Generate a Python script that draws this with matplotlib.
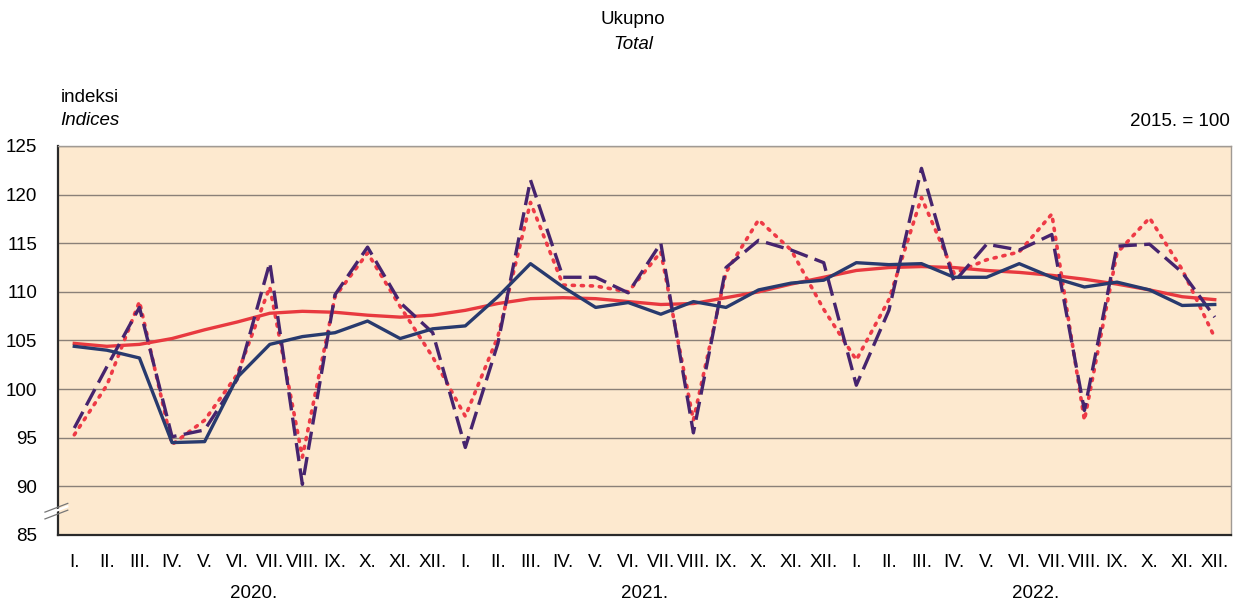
import matplotlib.pyplot as plt
import matplotlib.lines as mlines

plt.rcParams['font.family'] = ['Liberation Sans', 'DejaVu Sans']

meseci = ["I.", "II.", "III.", "IV.", "V.", "VI.", "VII.", "VIII.", "IX.", "X.", "XI.", "XII."] * 3
godine = ["2020.", "2021.", "2022."]

# originalni indeksi (isprekidana)
original = [96.0, 102.3, 108.4, 95.1, 95.8, 101.0, 113.0, 90.2, 109.7, 114.6, 108.9, 105.8,
            94.0, 104.7, 121.5, 111.5, 111.5, 109.9, 115.0, 95.5, 112.5, 115.3, 114.3, 113.0,
            100.4, 108.1, 122.7, 111.0, 114.9, 114.3, 115.9, 97.8, 114.7, 114.9, 112.0, 107.4]
# kalendarski prilagodjeni (tockasta)
kalendarski = [95.3, 100.4, 109.0, 94.3, 96.8, 101.5, 110.5, 93.0, 109.5, 114.0, 108.5, 103.3,
               97.2, 105.4, 119.2, 110.7, 110.6, 110.0, 114.1, 96.8, 112.0, 117.4, 114.3, 108.2,
               103.0, 109.2, 119.7, 111.9, 113.3, 114.1, 118.0, 96.8, 114.0, 117.6, 112.3, 105.3]
# desezonirani (puna plava)
desezonirani = [104.4, 104.0, 103.2, 94.5, 94.6, 101.2, 104.6, 105.4, 105.8, 107.0, 105.2, 106.2,
                106.5, 109.5, 112.9, 110.5, 108.4, 108.9, 107.7, 109.0, 108.4, 110.2, 110.9, 111.2,
                113.0, 112.8, 112.9, 111.5, 111.5, 112.9, 111.5, 110.5, 111.0, 110.2, 108.6, 108.7]
# trend-ciklus (puna crvena)
trend = [104.7, 104.4, 104.6, 105.2, 106.1, 106.9, 107.8, 108.0, 107.9, 107.6, 107.4, 107.6,
         108.1, 108.8, 109.3, 109.4, 109.3, 109.0, 108.7, 108.8, 109.4, 110.0, 110.8, 111.5,
         112.2, 112.5, 112.6, 112.5, 112.2, 112.0, 111.7, 111.3, 110.8, 110.2, 109.5, 109.2]

x = list(range(len(meseci)))
fs = 13.5

fig = plt.figure(figsize=(12.34, 6.03), dpi=100)
ax = fig.add_axes([0.047, 0.1128, 0.9506, 0.6451])
ax.set_facecolor('#fde9cf')

ax.plot(x, trend, color='#e8393f', lw=2.4, zorder=3)
ax.plot(x, kalendarski, color='#ee3a46', lw=2.6, ls=(0, (0.6, 1.9)),
        dash_capstyle='round', zorder=4)
ax.plot(x, original, color='#46246e', lw=2.4, ls=(0, (5.5, 2.2)), zorder=5)
ax.plot(x, desezonirani, color='#283a6e', lw=2.4, zorder=6)

ax.set_xlim(-0.5, len(x) - 0.5)
ax.set_ylim(85, 125)
ax.set_yticks(range(85, 126, 5))
ax.yaxis.grid(True, color='#8a8078', lw=1.0)
ax.set_axisbelow(True)
ax.set_xticks(x)
ax.set_xticklabels(meseci)
ax.tick_params(axis='both', length=0, labelsize=fs)
ax.tick_params(axis='x', pad=14)
ax.tick_params(axis='y', pad=15)

for s in ['top', 'right']:
    ax.spines[s].set_color('#a09a94')
    ax.spines[s].set_linewidth(1.0)
for s in ['left', 'bottom']:
    ax.spines[s].set_color('#2a2a2a')
    ax.spines[s].set_linewidth(1.6)

# prekid osi
for dy in (-0.35, 0.35):
    ax.add_line(mlines.Line2D([-0.9, -0.2], [87.0 + dy, 87.9 + dy], color='#777777',
                              lw=0.9, transform=ax.transData, clip_on=False, zorder=10))
ax.add_patch(plt.Polygon([[-0.9, 87.0], [-0.2, 87.9], [-0.2, 88.0], [-0.9, 87.1]],
                         closed=True, color='white', clip_on=False, zorder=9))

for i, g in enumerate(godine):
    ax.text(i * 12 + 5.5, -0.15, g, transform=ax.get_xaxis_transform(),
            ha='center', va='center', fontsize=fs)

fig.text(0.513, 0.967, "Ukupno", ha='center', va='center', fontsize=fs)
fig.text(0.513, 0.927, "Total", ha='center', va='center', fontsize=fs, style='italic')
fig.text(0.049, 0.839, "indeksi", ha='left', va='center', fontsize=fs)
fig.text(0.049, 0.800, "Indices", ha='left', va='center', fontsize=fs, style='italic')
fig.text(0.997, 0.798, "2015. = 100", ha='right', va='center', fontsize=fs)

plt.savefig("out.png", dpi=100)
plt.close()
